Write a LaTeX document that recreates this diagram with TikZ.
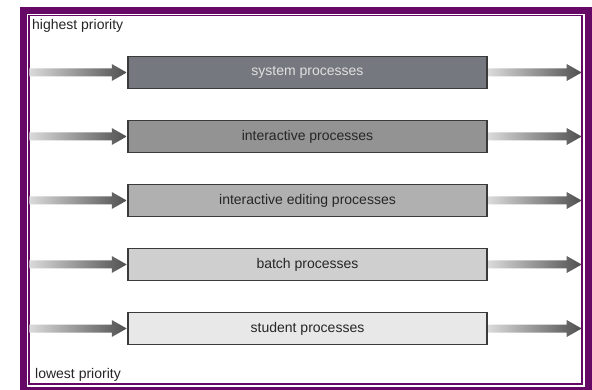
\documentclass[tikz,border=0pt]{standalone}
\usepackage{fontspec}
\setmainfont{Liberation Sans}
\usetikzlibrary{calc}
\definecolor{frame}{HTML}{660866}
\definecolor{bordr}{HTML}{3A3A3A}
\definecolor{cA}{HTML}{75787E}
\definecolor{cB}{HTML}{939393}
\definecolor{cC}{HTML}{B1B0B1}
\definecolor{cD}{HTML}{CFCFCF}
\definecolor{cE}{HTML}{E8E8E8}
\definecolor{arlight}{HTML}{DADADA}
\definecolor{ardark}{HTML}{505050}
\tikzset{
  procbox/.style={draw=bordr, line width=1.3pt, minimum width=359pt, minimum height=32pt,
    inner sep=0pt, font=\fontsize{14}{16}\selectfont, text=black!85},
  lbl/.style={font=\fontsize{14}{16}\selectfont, text=black!85, inner sep=0pt},
}
\newcommand{\shadearrow}[2]{%
  % #1 = start coordinate, #2 = tip coordinate (same y)
  \shade[left color=arlight, right color=ardark]
    let \p1=(#1), \p2=(#2) in
    (\x1,\y1-4pt) -- (\x2-15pt,\y1-4pt) -- (\x2-15pt,\y1-8.5pt) -- (\x2,\y1)
    -- (\x2-15pt,\y1+8.5pt) -- (\x2-15pt,\y1+4pt) -- (\x1,\y1+4pt) -- cycle;
}
\begin{document}
\begin{tikzpicture}[x=1pt,y=-1pt]
\useasboundingbox (0,0) rectangle (592,390);
% frame
\fill[white] (0,0) rectangle (592,390);
\fill[frame] (20,7) rectangle (592,390);
\fill[white] (27,14) rectangle (585,387);
\draw[frame, line width=1.5pt] (29,15.5) rectangle (582,384);
% labels
\node[lbl, anchor=base west] (hi) at (32,30) {highest priority};
\node[lbl, anchor=base west] (lo) at (35,378.5) {lowest priority};
% boxes
\node[procbox, fill=cA, text=white!88!black] (b1) at (307.5,72.5) {system processes};
\node[procbox, fill=cB] (b2) at (307.5,136.5) {interactive processes};
\node[procbox, fill=cC] (b3) at (307.5,200.5) {interactive editing processes};
\node[procbox, fill=cD] (b4) at (307.5,264.5) {batch processes};
\node[procbox, fill=cE] (b5) at (307.5,328.5) {student processes};
% arrows
\foreach \b in {b1,b2,b3,b4,b5}{
  \coordinate (in\b) at ($(\b.west)-(98pt,0)$);
  \coordinate (out\b) at ($(\b.east)+(94pt,0)$);
  \coordinate (bw\b) at ($(\b.west)-(0.6pt,0)$);
  \coordinate (be\b) at ($(\b.east)+(0.6pt,0)$);
  \shadearrow{in\b}{bw\b}
  \shadearrow{be\b}{out\b}
}
\end{tikzpicture}
\end{document}
